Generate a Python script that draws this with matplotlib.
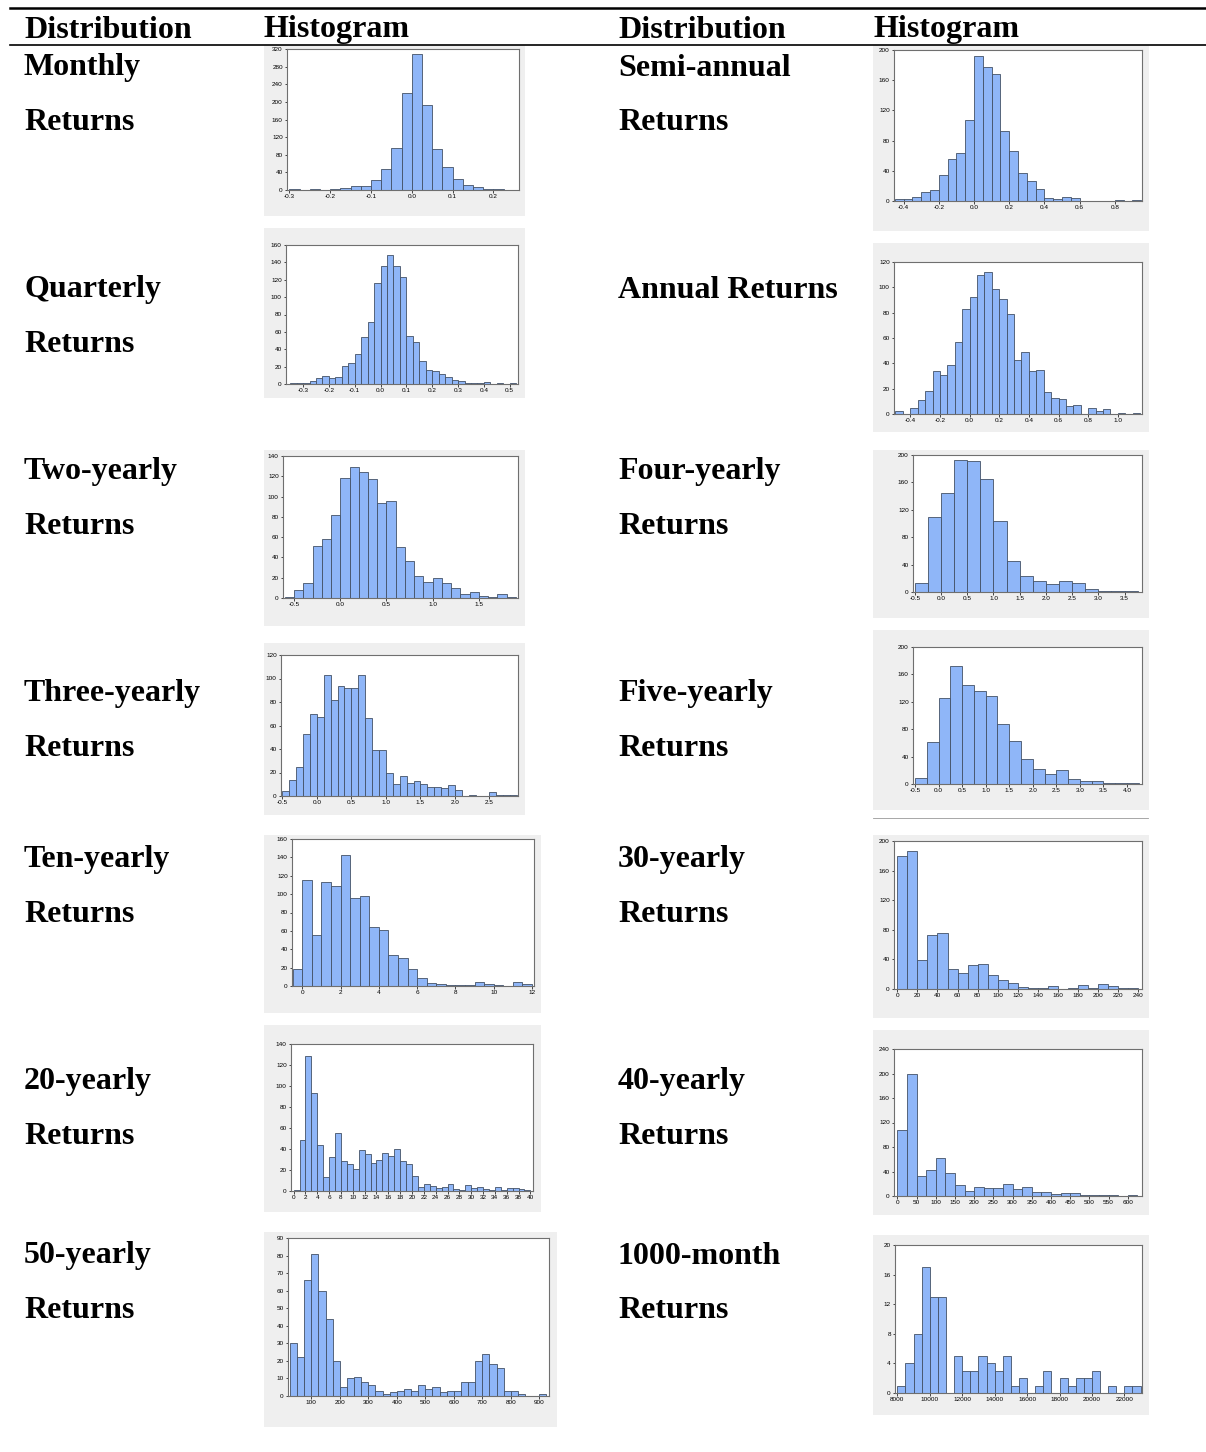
import numpy as np
import matplotlib
matplotlib.use("Agg")
import matplotlib.pyplot as plt
from matplotlib.patches import Rectangle

# Histogram data: bin start, bin width, counts
monthly_start, monthly_width = -0.3, 0.025
monthly_counts = [2, 0, 2, 0, 2, 4, 8, 10, 22, 48, 96, 220, 308, 192, 93, 52, 25, 11, 7, 2, 2, 1]

semi_start, semi_width = -0.45, 0.05
semi_counts = [2, 2, 5, 12, 15, 35, 55, 63, 107, 192, 178, 168, 93, 66, 37, 27, 16, 4, 3, 5, 4,
               0, 0, 0, 0, 1, 0, 1]

quarterly_start, quarterly_width = -0.35, 0.025
quarterly_counts = [1, 1, 1, 3, 7, 9, 7, 8, 21, 24, 34, 54, 71, 116, 136, 149, 136, 123, 55, 48,
                    26, 16, 15, 12, 8, 5, 4, 1, 1, 1, 2, 0, 1, 0, 1]

annual_start, annual_width = -0.5, 0.05
annual_counts = [2, 0, 5, 11, 18, 34, 31, 39, 57, 83, 92, 110, 112, 99, 91, 79, 43, 49, 34, 35,
                 17, 13, 12, 6, 7, 0, 5, 2, 4, 0, 1, 0, 1]

two_start, two_width = -0.6, 0.1
two_counts = [1, 8, 15, 51, 58, 82, 118, 129, 124, 117, 94, 96, 50, 36, 22, 16, 20, 15, 10, 4,
              6, 2, 1, 4, 1]

four_start, four_width = -0.5, 0.25
four_counts = [13, 109, 145, 192, 191, 165, 104, 45, 23, 16, 12, 16, 13, 5, 2, 2, 1]

three_start, three_width = -0.5, 0.1
three_counts = [4, 14, 25, 53, 70, 67, 103, 82, 94, 92, 92, 103, 66, 39, 39, 20, 10, 17, 11, 13,
                10, 8, 8, 7, 9, 5, 0, 1, 0, 0, 3, 1, 1, 1]

five_start, five_width = -0.5, 0.25
five_counts = [9, 61, 126, 172, 145, 136, 129, 88, 63, 37, 22, 15, 21, 7, 4, 4, 2, 1, 1]

ten_start, ten_width = -0.5, 0.5
ten_counts = [18, 115, 55, 113, 109, 143, 96, 98, 64, 61, 34, 30, 18, 9, 3, 2, 1, 1, 1, 4, 2, 1,
              0, 4, 2]

thirty_start, thirty_width = 0, 10
thirty_counts = [180, 187, 39, 73, 76, 27, 22, 32, 34, 19, 12, 8, 3, 2, 2, 4, 0, 2, 6, 1, 7, 4, 2, 1]

twenty_start, twenty_width = 0, 1
twenty_counts = [1, 49, 129, 93, 44, 13, 32, 55, 29, 26, 21, 39, 35, 27, 30, 36, 33, 40, 29, 26,
                 14, 4, 7, 5, 3, 4, 7, 2, 1, 6, 3, 4, 2, 1, 4, 1, 3, 3, 2, 1]

forty_start, forty_width = 0, 25
forty_counts = [108, 199, 33, 42, 62, 37, 18, 8, 14, 13, 13, 19, 11, 15, 6, 6, 3, 5, 5, 2, 2, 1,
                2, 0, 1]

fifty_start, fifty_width = 25, 25
fifty_counts = [30, 22, 66, 81, 60, 44, 20, 5, 10, 11, 8, 6, 3, 1, 2, 3, 4, 3, 6, 4, 5, 2, 3, 3,
                8, 8, 20, 24, 18, 16, 3, 3, 1, 0, 0, 1]

month1000_start, month1000_width = 8000, 500
month1000_counts = [1, 4, 8, 17, 13, 13, 0, 5, 3, 3, 5, 4, 3, 5, 1, 2, 0, 1, 3, 0, 2, 1, 2, 2, 3,
                    0, 1, 0, 1, 1]

# row labels
left_labels = [["Monthly", "Returns"], ["Quarterly", "Returns"], ["Two-yearly", "Returns"],
               ["Three-yearly", "Returns"], ["Ten-yearly", "Returns"], ["20-yearly", "Returns"],
               ["50-yearly", "Returns"]]
right_labels = [["Semi-annual", "Returns"], ["Annual Returns"], ["Four-yearly", "Returns"],
                ["Five-yearly", "Returns"], ["30-yearly", "Returns"], ["40-yearly", "Returns"],
                ["1000-month", "Returns"]]
headers = ["Distribution", "Histogram", "Distribution", "Histogram"]

# axis settings: xlim, ymax, ystep, xticks, tick format
hists = [
    (monthly_start, monthly_width, monthly_counts, (-0.306, 0.263), 320, 40, np.arange(-0.3, 0.21, 0.1), "%.1f"),
    (semi_start, semi_width, semi_counts, (-0.455, 0.955), 200, 40, np.arange(-0.4, 0.81, 0.2), "%.1f"),
    (quarterly_start, quarterly_width, quarterly_counts, (-0.366, 0.532), 160, 20, np.arange(-0.3, 0.51, 0.1), "%.1f"),
    (annual_start, annual_width, annual_counts, (-0.51, 1.163), 120, 20, np.arange(-0.4, 1.01, 0.2), "%.1f"),
    (two_start, two_width, two_counts, (-0.62, 1.924), 140, 20, np.arange(-0.5, 1.51, 0.5), "%.1f"),
    (four_start, four_width, four_counts, (-0.535, 3.832), 200, 40, np.arange(-0.5, 3.51, 0.5), "%.1f"),
    (three_start, three_width, three_counts, (-0.52, 2.914), 120, 20, np.arange(-0.5, 2.51, 0.5), "%.1f"),
    (five_start, five_width, five_counts, (-0.545, 4.32), 200, 40, np.arange(-0.5, 4.01, 0.5), "%.1f"),
    (ten_start, ten_width, ten_counts, (-0.54, 12.11), 160, 20, np.arange(0, 13, 2), "%d"),
    (thirty_start, thirty_width, thirty_counts, (-3.3, 243.7), 200, 40, np.arange(0, 241, 20), "%d"),
    (twenty_start, twenty_width, twenty_counts, (-0.45, 40.45), 140, 20, np.arange(0, 41, 2), "%d"),
    (forty_start, forty_width, forty_counts, (-8.7, 637), 240, 40, np.arange(0, 601, 50), "%d"),
    (fifty_start, fifty_width, fifty_counts, (18, 934), 90, 10, np.arange(100, 901, 100), "%d"),
    (month1000_start, month1000_width, month1000_counts, (7856, 23087), 20, 4, np.arange(8000, 22001, 2000), "%d"),
]

# layout in pixels: gray panel box and plot box (x0, top, x1, bottom)
panel_px = [[264, 45, 525, 216], [873, 45, 1149, 231], [264, 228, 525, 398], [873, 243, 1149, 432],
            [264, 450, 525, 626], [873, 450, 1149, 618], [264, 643, 525, 815], [873, 630, 1149, 810],
            [264, 835, 541, 1013], [873, 835, 1149, 1018], [264, 1025, 541, 1212], [873, 1030, 1149, 1215],
            [264, 1232, 557, 1427], [873, 1235, 1149, 1415]]
axes_px = [[287, 49, 519, 190], [894, 50, 1142, 201], [286, 245, 518, 384], [894, 262, 1142, 414],
           [283, 456, 518, 598], [913, 455, 1142, 592], [281, 655, 518, 796], [913, 647, 1142, 784],
           [292, 839, 534, 986], [894, 841, 1142, 989], [291, 1044, 533, 1191], [894, 1049, 1142, 1196],
           [288, 1238, 549, 1396], [895, 1245, 1142, 1393]]
row_y = [68, 290, 472, 694, 859, 1081, 1256]

W, H = 1206, 1452
fig = plt.figure(figsize=(W / 100, H / 100), dpi=100)
fig.patch.set_facecolor("white")

def fx(x):
    return x / W

def fy(y):
    return 1 - y / H

serif = dict(family="Liberation Serif", weight="bold", size=23, color="black")

# table rules
fig.add_artist(plt.Line2D([fx(10), fx(1206)], [fy(8), fy(8)], color="black", lw=1.8))
fig.add_artist(plt.Line2D([fx(10), fx(1206)], [fy(45), fy(45)], color="black", lw=1.2))
fig.add_artist(plt.Line2D([fx(873), fx(1148)], [fy(818), fy(818)], color="#999999", lw=0.6))

for txt, x in zip(headers, [24, 264, 618, 873]):
    fig.text(fx(x), fy(30), txt, va="center", ha="left", **serif)

for lab, y in zip(left_labels, row_y):
    for i, t in enumerate(lab):
        fig.text(fx(24), fy(y + 55 * i), t, va="center", ha="left", **serif)
for lab, y in zip(right_labels, row_y):
    for i, t in enumerate(lab):
        fig.text(fx(618), fy(y + 55 * i), t, va="center", ha="left", **serif)

for (start, width, counts, xlim, ymax, ystep, xt, fmt), p, a in zip(hists, panel_px, axes_px):
    fig.add_artist(Rectangle((fx(p[0]), fy(p[3])), fx(p[2] - p[0]), (p[3] - p[1]) / H,
                             transform=fig.transFigure, facecolor="#efefef", edgecolor="none", zorder=0))
    ax = fig.add_axes([fx(a[0]), fy(a[3]), fx(a[2] - a[0]), (a[3] - a[1]) / H])
    ax.set_facecolor("white")
    counts = np.array(counts)
    lefts = start + width * np.arange(len(counts))
    ax.bar(lefts, counts, width=width, align="edge", color="#8fb6f8",
           edgecolor="#435166", linewidth=0.6)
    ax.set_xlim(*xlim)
    ax.set_ylim(0, ymax)
    ax.set_yticks(np.arange(0, ymax + 1, ystep))
    ax.set_xticks(xt)
    ax.set_xticklabels([fmt % v if abs(v) > 1e-9 else (fmt % 0 if fmt == "%d" else "0.0") for v in xt])
    ax.tick_params(labelsize=4.6, length=1.8, width=0.5, pad=1.2, colors="black")
    for lab in ax.get_xticklabels() + ax.get_yticklabels():
        lab.set_family("Liberation Sans")
    for s in ax.spines.values():
        s.set_color("#6f6f6f")
        s.set_linewidth(0.8)

fig.savefig("out.png", dpi=100, facecolor="white")
